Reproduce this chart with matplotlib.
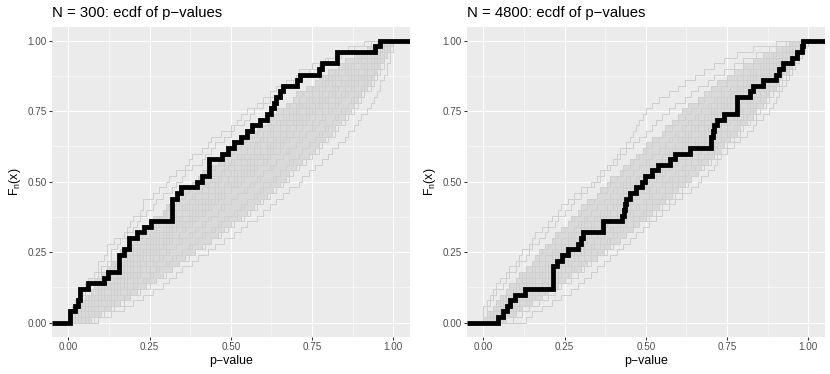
import numpy as np
import matplotlib
matplotlib.use("Agg")
import matplotlib.pyplot as plt

plt.rcParams['font.family'] = ['Liberation Sans', 'DejaVu Sans']
plt.rcParams['mathtext.fontset'] = 'custom'
plt.rcParams['mathtext.rm'] = 'Liberation Sans'
plt.rcParams['mathtext.it'] = 'Liberation Sans:italic'

# observed p-values (black ecdf), one list per panel
pvals_300 = [0.006, 0.006, 0.020, 0.030, 0.036, 0.036, 0.062, 0.110, 0.122, 0.157,
             0.157, 0.157, 0.172, 0.188, 0.188, 0.210, 0.234, 0.254, 0.320, 0.320,
             0.320, 0.320, 0.333, 0.346, 0.395, 0.410, 0.432, 0.432, 0.432, 0.472,
             0.490, 0.510, 0.530, 0.550, 0.565, 0.590, 0.610, 0.625, 0.632, 0.640,
             0.652, 0.660, 0.703, 0.713, 0.770, 0.780, 0.826, 0.826, 0.944, 0.958]

pvals_4800 = [0.046, 0.062, 0.072, 0.082, 0.097, 0.128, 0.215, 0.215, 0.215, 0.215,
              0.226, 0.241, 0.260, 0.292, 0.300, 0.308, 0.369, 0.369, 0.428, 0.432,
              0.436, 0.440, 0.452, 0.470, 0.487, 0.497, 0.518, 0.538, 0.574, 0.590,
              0.636, 0.700, 0.702, 0.706, 0.710, 0.720, 0.740, 0.780, 0.780, 0.780,
              0.820, 0.830, 0.860, 0.900, 0.910, 0.923, 0.949, 0.965, 0.980, 0.985]

# reference ecdfs (grey), p-values in percent
grey_300 = [
    "0 0 1 2 4 4 5 6 8 9 9 11 12 12 14 17 18 19 20 22 23 23 26 28 30 31 33 36 37 38 41 43 44 47 50 52 53 55 58 60 62 64 67 70 71 75 79 82 86 91",
    "1 2 2 3 5 7 8 8 10 12 13 15 16 19 20 21 23 25 26 29 30 33 34 35 38 40 41 44 46 47 49 52 54 55 58 61 62 64 67 69 70 73 76 77 80 83 85 88 92 95",
    "0 3 4 4 6 9 10 11 13 14 17 18 20 21 24 25 27 28 31 32 35 37 38 41 42 44 47 48 50 53 55 56 59 61 62 65 66 69 71 74 75 77 80 82 85 86 89 91 94 98",
    "2 3 5 7 7 9 11 14 15 17 18 20 23 24 26 27 30 32 33 35 38 39 41 43 45 47 48 51 53 54 57 58 60 63 65 66 69 70 73 75 77 78 81 84 86 88 90 93 95 98",
    "1 4 6 7 9 10 13 14 17 18 20 22 23 26 28 29 32 34 35 38 40 42 43 46 48 49 52 54 55 58 59 61 64 65 68 70 71 74 76 77 80 81 84 86 87 90 92 94 97 99",
    "2 3 6 8 10 11 14 15 18 20 21 24 25 27 30 32 33 36 38 39 42 43 46 48 50 51 54 56 57 60 61 64 66 67 70 72 73 76 77 79 82 83 85 88 89 91 93 95 97 99",
    "3 5 7 10 11 13 16 17 20 21 24 26 27 30 31 34 36 37 40 42 44 46 48 50 53 54 57 58 61 62 65 66 68 71 72 75 76 78 80 82 84 85 87 89 91 92 94 96 98 99",
    "4 6 9 10 13 15 17 20 21 24 26 28 30 33 34 37 39 41 43 46 47 50 52 54 56 58 60 62 64 66 67 70 72 73 76 77 79 81 83 84 86 88 89 91 92 94 95 97 98 99",
    "5 8 11 13 15 18 20 23 25 27 30 32 35 37 39 41 44 46 48 51 53 55 57 59 60 63 65 67 68 71 72 74 76 78 80 81 83 85 86 88 89 91 92 93 95 96 97 98 99 99",
    "7 10 13 16 19 21 24 27 29 32 34 37 39 42 44 47 49 51 54 56 58 60 62 64 66 68 69 71 73 75 77 78 80 82 83 85 86 88 89 90 91 93 94 95 96 97 97 98 99 100",
    "9 13 17 20 23 26 29 31 33 35 38 40 43 45 48 51 53 55 58 60 62 64 66 68 71 72 74 76 78 80 81 83 85 86 88 89 90 92 93 94 95 96 96 97 98 98 99 99 100 100",
    "0 1 2 2 3 5 6 7 9 10 12 13 13 15 16 18 20 21 22 24 26 27 29 32 33 35 36 38 41 42 44 45 48 50 51 54 56 57 60 62 65 66 69 72 74 77 80 84 88 93",
    "1 1 3 5 5 7 9 10 12 14 14 16 18 20 21 23 24 27 28 30 31 34 36 37 39 41 43 45 48 49 51 53 55 58 59 62 63 66 68 71 72 75 78 80 82 85 88 90 93 97",
    "0 2 3 5 8 9 10 12 13 16 17 19 21 22 25 26 27 30 31 33 36 37 39 41 43 46 47 49 51 52 55 57 59 60 63 64 67 68 70 73 75 76 79 81 83 86 88 91 93 96",
    "1 3 5 6 8 10 11 14 15 16 19 20 22 24 25 28 29 31 34 35 37 40 41 43 46 47 50 51 53 56 57 59 61 62 65 67 68 71 72 74 77 79 80 83 85 87 89 92 95 98",
    "2 4 5 8 9 11 12 15 16 18 20 21 24 25 27 30 31 33 35 37 39 41 43 45 48 49 51 53 56 57 59 62 63 65 67 69 70 73 74 76 78 81 82 84 87 88 90 92 95 98",
    "2 5 6 9 10 13 14 16 18 19 22 23 26 28 29 31 33 35 37 39 41 44 45 47 49 52 53 55 58 59 61 63 65 67 68 71 72 75 76 78 80 82 84 86 88 90 92 94 96 99",
    "3 6 8 9 12 14 15 18 19 22 24 25 28 29 32 34 35 38 40 41 44 45 47 50 52 53 56 57 60 61 63 65 67 69 70 73 74 76 78 80 81 83 85 87 89 90 93 95 97 99",
    "4 7 9 12 14 16 18 21 22 25 27 29 31 33 35 38 40 42 44 46 48 50 52 55 57 59 60 63 64 66 68 70 71 73 75 77 78 80 82 83 85 87 88 90 91 93 94 96 98 99",
    "6 9 12 14 17 19 21 24 26 28 31 33 35 38 40 42 45 47 49 52 54 55 58 60 62 64 65 67 69 71 72 74 76 77 79 81 82 84 86 87 88 90 91 92 94 95 96 97 98 99",
    "8 11 14 17 19 22 25 27 30 32 34 36 39 41 44 46 48 50 53 55 57 59 61 63 65 67 68 70 72 74 76 77 79 81 82 84 85 87 88 89 90 92 93 94 95 96 97 98 99 100",
    "1 2 6 8 9 13 13 16 19 20 21 25 26 27 31 32 32 37 39 40 43 44 47 48 51 51 55 58 58 61 62 64 66 69 70 71 74 76 77 80 81 83 86 87 88 91 92 95 96 98",
]

grey_4800 = [
    "0 0 0 1 2 3 4 5 7 8 10 11 12 14 15 16 18 20 21 23 24 26 28 30 33 35 36 38 40 41 42 44 45 46 47 48 49 50 52 54 57 60 62 65 68 71 74 78 83 90",
    "1 1 3 4 6 7 8 10 11 13 15 16 17 19 21 22 24 26 27 29 30 32 35 36 38 39 42 43 45 47 49 50 52 55 56 58 60 61 63 66 68 70 72 75 77 80 83 86 90 94",
    "1 3 4 5 7 9 11 12 13 16 17 19 21 22 24 27 28 30 32 33 35 37 39 41 43 45 46 48 51 52 54 56 58 59 62 63 66 67 69 72 73 76 78 80 82 85 87 90 93 96",
    "2 3 5 7 8 10 12 14 15 17 19 21 22 25 26 28 30 32 34 36 38 40 42 44 46 47 50 52 53 55 58 59 61 63 65 66 69 71 72 75 77 79 81 83 85 87 90 92 94 97",
    "2 4 6 7 10 11 13 15 17 19 21 23 25 26 29 30 33 34 36 38 40 42 44 46 49 50 53 54 56 58 60 62 64 66 68 70 71 73 75 77 79 81 83 85 87 89 91 93 96 98",
    "3 5 7 9 11 13 15 18 19 21 24 25 27 30 31 33 36 37 39 41 44 45 47 49 52 53 55 57 59 61 63 65 66 68 70 72 74 76 78 80 82 84 85 87 89 91 93 95 97 99",
    "4 6 9 11 13 15 18 19 22 24 26 28 30 33 34 37 39 41 43 45 47 49 51 53 55 57 59 61 62 64 66 68 70 72 73 75 77 79 81 82 84 86 87 89 91 92 94 96 97 99",
    "5 8 10 13 15 17 20 22 24 27 29 31 33 36 38 40 42 44 46 49 50 52 55 56 58 60 62 64 66 68 69 71 73 75 77 78 80 82 83 85 87 88 90 91 93 94 96 97 98 99",
    "7 10 12 15 18 20 23 25 27 30 32 35 37 39 42 44 46 48 51 53 55 57 59 61 63 64 66 68 70 72 73 75 77 79 80 82 84 85 87 88 89 91 92 93 95 96 97 98 99 99",
    "13 15 18 21 24 27 29 31 33 35 37 39 41 43 45 47 49 51 53 55 57 59 61 64 66 67 69 71 72 73 75 77 79 81 83 84 86 88 89 90 91 92 93 94 95 96 97 98 99 100",
    "0 1 1 2 3 4 6 7 8 10 11 13 14 15 17 19 20 22 23 25 27 28 30 32 34 36 37 39 41 42 44 46 48 50 52 53 55 57 59 62 64 66 69 71 74 77 80 84 88 93",
    "0 2 3 4 5 7 8 10 12 13 15 17 18 20 22 23 25 26 28 30 32 34 35 38 39 41 43 45 46 48 50 52 54 56 58 60 62 64 66 68 70 73 75 78 80 83 86 89 92 95",
    "1 2 4 6 7 9 10 12 14 15 17 19 21 22 24 26 28 29 31 33 35 37 39 40 42 44 46 48 50 52 54 56 57 60 61 64 65 67 70 71 74 76 78 81 83 85 88 90 93 97",
    "1 3 5 7 8 10 12 13 15 17 19 21 23 24 26 28 30 32 34 36 38 39 42 43 45 47 49 51 53 55 57 59 60 63 64 66 68 70 72 74 76 78 80 82 84 86 89 91 94 97",
    "2 3 6 8 9 11 13 15 17 18 20 22 24 26 28 30 32 33 36 37 40 41 43 45 47 49 51 53 55 57 59 61 63 64 66 68 70 72 74 76 78 80 82 84 86 88 90 93 95 98",
    "2 4 6 9 10 12 14 16 18 20 22 24 26 28 30 32 34 36 37 39 41 43 45 47 50 51 54 55 57 59 61 63 65 67 69 71 72 74 76 78 80 82 84 86 88 90 92 94 96 98",
    "3 5 8 10 12 14 16 18 20 22 24 26 28 31 32 35 36 38 41 42 45 46 48 51 52 55 56 58 60 62 64 66 68 70 71 73 75 77 79 81 82 84 86 88 89 91 93 95 97 99",
    "4 7 9 11 14 16 18 20 23 25 27 29 31 34 36 37 40 42 44 46 48 50 52 54 56 58 60 62 64 66 67 69 71 73 75 76 78 80 82 83 85 87 88 90 92 93 95 96 98 99",
    "6 9 11 14 16 19 21 23 26 28 30 33 35 37 39 41 43 46 48 50 52 54 56 58 60 62 63 65 67 69 71 72 74 76 78 79 81 83 84 86 87 89 90 92 93 94 96 97 98 99",
    "9 12 14 17 20 22 24 27 29 31 33 35 38 40 42 44 46 48 50 52 54 56 58 60 62 64 66 67 69 71 73 74 76 78 79 81 83 84 86 87 88 90 91 92 94 95 96 97 98 100",
    "0 3 4 5 9 10 10 14 16 16 19 22 22 25 27 28 31 31 35 36 38 41 42 44 44 48 50 51 54 55 56 59 62 62 65 67 68 70 73 73 76 78 81 82 84 87 88 91 94 96",
]

titles = ["N = 300: ecdf of p\u2212values", "N = 4800: ecdf of p\u2212values"]
ticks = [0.0, 0.25, 0.5, 0.75, 1.0]
tick_labels = ["0.00", "0.25", "0.50", "0.75", "1.00"]

XLIM = (-0.05, 1.05)
YLIM = (-0.05, 1.05)


def ecdf_xy(values):
    v = np.sort(np.asarray(values, dtype=float))
    n = len(v)
    x = np.concatenate([[XLIM[0]], v, [XLIM[1]]])
    y = np.concatenate([[0.0], np.arange(1, n + 1) / n, [1.0]])
    return x, y


def step_path(x, y):
    # vertices of a 'post' step line
    xs = np.repeat(x, 2)[1:]
    ys = np.repeat(y, 2)[:-1]
    return xs, ys


fig = plt.figure(figsize=(830 / 72, 374 / 72), dpi=72, facecolor='white')
W, H = 830.0, 374.0
panel_left = [52.0, 467.0]
axes = [fig.add_axes([pl / W, (H - 336.8) / H, 357.6 / W, 310.2 / H]) for pl in panel_left]

for ax, title, black, greys in zip(axes, titles, [pvals_300, pvals_4800], [grey_300, grey_4800]):
    ax.set_facecolor('#EBEBEB')
    for s in ax.spines.values():
        s.set_visible(False)

    # grid (ggplot style)
    ax.set_xticks(ticks)
    ax.set_yticks(ticks)
    ax.set_xticks([0.125, 0.375, 0.625, 0.875], minor=True)
    ax.set_yticks([0.125, 0.375, 0.625, 0.875], minor=True)
    ax.grid(True, which='major', color='white', linewidth=1.07)
    ax.grid(True, which='minor', color='white', linewidth=0.53)
    ax.set_axisbelow(True)

    sims = np.array([[int(t) / 100.0 for t in g.split()] for g in greys])
    sims.sort(axis=1)

    # dense core of the grey bundle
    lo = np.sort(sims, axis=0)[2]
    hi = np.sort(sims, axis=0)[-3]
    lx, ly = step_path(*ecdf_xy(lo))
    hx, hy = step_path(*ecdf_xy(hi))
    ax.fill(np.concatenate([lx, hx[::-1]]), np.concatenate([ly, hy[::-1]]),
            color='#D9D9D9', linewidth=0, zorder=1.5)

    for row in sims:
        x, y = ecdf_xy(row)
        ax.step(x, y, where='post', color='#CFCFCF', linewidth=1.0, zorder=2)

    x, y = ecdf_xy(black)
    ax.step(x, y, where='post', color='black', linewidth=4.8, zorder=3,
            solid_joinstyle='miter', solid_capstyle='butt')

    ax.set_xlim(*XLIM)
    ax.set_ylim(*YLIM)
    ax.set_xticklabels(tick_labels)
    ax.set_yticklabels(tick_labels)
    ax.tick_params(which='major', length=3.1, width=1.07, color='#333333',
                   labelcolor='#4D4D4D', labelsize=9.9, pad=2.4)
    ax.tick_params(which='minor', length=0)

    ax.set_xlabel("p\u2212value", fontsize=12.4, labelpad=2.5)
    ax.set_ylabel(r"$\mathregular{F_n(x)}$", fontsize=12.4, labelpad=4)
    ax.set_title(title, loc='left', fontsize=14.9, pad=10)

fig.savefig("out.png", dpi=72, facecolor='white')
